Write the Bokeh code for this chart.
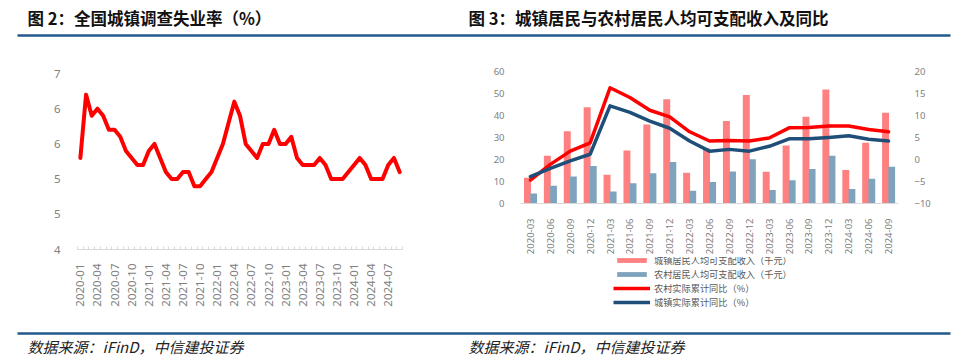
import math
from bokeh.plotting import figure
from bokeh.models import (Range1d, FactorRange, LinearAxis, FixedTicker, Legend,
                          LegendItem, ColumnDataSource)
from bokeh.layouts import column, row
from bokeh.transform import dodge
from bokeh.core.properties import value
from bokeh.embed import file_html
from bokeh.resources import INLINE

# ---------------- data ----------------
titles = ["图 2：全国城镇调查失业率（%）", "图 3：城镇居民与农村居民人均可支配收入及同比"]
sources = ["数据来源：iFinD，中信建投证券", "数据来源：iFinD，中信建投证券"]

months = [f"{y}-{m:02d}" for y in range(2020, 2025) for m in range(1, 13)][:57]
unemployment = [5.3, 6.2, 5.9, 6.0, 5.9, 5.7, 5.7, 5.6, 5.4, 5.3, 5.2, 5.2,
                5.4, 5.5, 5.3, 5.1, 5.0, 5.0, 5.1, 5.1, 4.9, 4.9, 5.0, 5.1,
                5.3, 5.5, 5.8, 6.1, 5.9, 5.5, 5.4, 5.3, 5.5, 5.5, 5.7, 5.5,
                5.5, 5.6, 5.3, 5.2, 5.2, 5.2, 5.3, 5.2, 5.0, 5.0, 5.0, 5.1,
                5.2, 5.3, 5.2, 5.0, 5.0, 5.0, 5.2, 5.3, 5.1]
unemp_ticks = [4.0, 4.5, 5.0, 5.5, 6.0, 6.5]
unemp_tick_labels = ["4", "5", "5", "6", "6", "7"]

quarters = ["2020-03", "2020-06", "2020-09", "2020-12", "2021-03", "2021-06",
            "2021-09", "2021-12", "2022-03", "2022-06", "2022-09", "2022-12",
            "2023-03", "2023-06", "2023-09", "2023-12", "2024-03", "2024-06",
            "2024-09"]
urban_income = [11.7, 21.7, 32.8, 43.8, 13.1, 24.1, 35.9, 47.4, 14.0, 25.0,
                37.5, 49.3, 14.4, 26.4, 39.4, 51.8, 15.2, 27.6, 41.2]
rural_income = [4.6, 8.1, 12.3, 17.1, 5.4, 9.2, 13.7, 18.9, 5.8, 9.8,
                14.6, 20.1, 6.1, 10.6, 15.7, 21.7, 6.6, 11.3, 16.7]
rural_yoy = [-4.7, -1.1, 1.9, 3.8, 16.3, 14.1, 11.2, 9.7, 6.3, 4.2,
             4.3, 4.2, 4.9, 7.2, 7.3, 7.6, 7.6, 6.8, 6.3]
urban_yoy = [-3.9, -2.0, -0.3, 1.2, 12.2, 10.7, 8.7, 7.1, 4.2, 1.9,
             2.3, 1.9, 3.0, 4.7, 4.7, 5.0, 5.4, 4.6, 4.2]
income_ticks = [0, 10, 20, 30, 40, 50, 60]
yoy_ticks = [-10, -5, 0, 5, 10, 15, 20]
legend_labels = ["城镇居民人均可支配收入（千元）", "农村居民人均可支配收入（千元）",
                 "农村实际累计同比（%）", "城镇实际累计同比（%）"]

# ---------------- styles ----------------
CJK = "Noto Sans CJK SC"
NUM = "Noto Sans"
TICK_COLOR = "#808080"
AXIS_COLOR = "#d9d9d9"
RULE_COLOR = "#23598c"
RED = "#ff0000"
NAVY = "#1f4e79"
PINK = "#ff8080"
STEEL = "#7fa3bc"


def blank_fig(w, h):
    p = figure(width=w, height=h, x_range=Range1d(0, w), y_range=Range1d(h, 0),
               x_axis_type=None, y_axis_type=None, min_border=0,
               output_backend="svg", toolbar_location=None)
    p.outline_line_color = None
    p.background_fill_color = "white"
    p.border_fill_color = "white"
    return p


# ---------------- header ----------------
hdr = blank_fig(960, 42)
hdr.text(x=[27, 468], y=[17, 17], text=titles, text_font=value(CJK),
         text_font_style="bold", text_font_size="16.5px", text_baseline="middle",
         text_color="#111111")
hdr.segment(x0=[17], y0=[35], x1=[950], y1=[35], line_color=RULE_COLOR, line_width=2.5)

# ---------------- left chart ----------------
src_l = ColumnDataSource(dict(x=list(range(len(months))), y=unemployment))
lc = figure(width=480, height=280, x_range=Range1d(-0.5, len(months) - 0.5),
            y_range=Range1d(unemp_ticks[0], unemp_ticks[-1]),
            min_border_left=77, min_border_right=78, min_border_top=31,
            min_border_bottom=73, output_backend="svg", toolbar_location=None)
lc.outline_line_color = None
lc.grid.visible = False
lc.line("x", "y", source=src_l, line_color=RED, line_width=4,
        line_join="round", line_cap="round")

xa = lc.xaxis[0]
xa.ticker = FixedTicker(ticks=list(range(0, len(months), 3)),
                        minor_ticks=[i - 0.5 for i in range(len(months) + 1)])
xa.major_label_overrides = {i: months[i] for i in range(0, len(months), 3)}
xa.major_label_orientation = math.pi / 2
xa.axis_line_color = AXIS_COLOR
xa.major_tick_line_color = None
xa.minor_tick_line_color = AXIS_COLOR
xa.minor_tick_in = 3
xa.minor_tick_out = 0
xa.major_label_standoff = 8
xa.major_label_text_font = NUM
xa.major_label_text_font_size = "11.5px"
xa.major_label_text_color = TICK_COLOR

ya = lc.yaxis[0]
ya.ticker = FixedTicker(ticks=unemp_ticks)
ya.major_label_overrides = {t: s for t, s in zip(unemp_ticks, unemp_tick_labels)}
ya.axis_line_color = None
ya.major_tick_line_color = None
ya.minor_tick_line_color = None
ya.major_label_standoff = 11
ya.major_label_text_font = NUM
ya.major_label_text_font_size = "11.5px"
ya.major_label_text_color = TICK_COLOR

# ---------------- right chart ----------------
src_r = ColumnDataSource(dict(q=quarters, urban=urban_income, rural=rural_income,
                              ryoy=rural_yoy, uyoy=urban_yoy))
rc = figure(width=480, height=215, x_range=FactorRange(factors=quarters, range_padding=0),
            y_range=Range1d(income_ticks[0], income_ticks[-1]),
            min_border_left=40, min_border_right=62, min_border_top=29,
            min_border_bottom=48, output_backend="svg", toolbar_location=None)
rc.outline_line_color = None
rc.grid.visible = False
rc.extra_y_ranges = {"yoy": Range1d(yoy_ticks[0], yoy_ticks[-1])}

bar_style = [dict(fill_color=PINK, line_color=None), dict(fill_color=STEEL, line_color=None)]
line_style = [dict(line_color=RED, line_width=3.5), dict(line_color=NAVY, line_width=3.5)]

rc.vbar(x=dodge("q", -0.15, range=rc.x_range), top="urban", width=0.35,
        source=src_r, **bar_style[0])
rc.vbar(x=dodge("q", 0.16, range=rc.x_range), top="rural", width=0.34,
        source=src_r, **bar_style[1])
rc.line("q", "ryoy", source=src_r, y_range_name="yoy",
        line_join="round", line_cap="round", **line_style[0])
rc.line("q", "uyoy", source=src_r, y_range_name="yoy",
        line_join="round", line_cap="round", **line_style[1])

rax = LinearAxis(y_range_name="yoy", ticker=FixedTicker(ticks=yoy_ticks))
rc.add_layout(rax, "right")

for ax in (rc.yaxis[0], rax):
    ax.axis_line_color = None
    ax.major_tick_line_color = None
    ax.minor_tick_line_color = None
    ax.major_label_standoff = 10
    ax.major_label_text_font = NUM
    ax.major_label_text_font_size = "9.5px"
    ax.major_label_text_color = TICK_COLOR
rc.yaxis[0].ticker = FixedTicker(ticks=income_ticks)

cx = rc.xaxis[0]
cx.major_label_orientation = math.pi / 2
cx.axis_line_color = AXIS_COLOR
cx.major_tick_line_color = None
cx.minor_tick_line_color = None
cx.major_label_standoff = 9
cx.major_label_text_font = NUM
cx.major_label_text_font_size = "9.5px"
cx.major_label_text_color = TICK_COLOR

# ---------------- legend (separate strip under the right chart) ----------------
# legend-only proxy renderers, placed outside the visible range of this strip
lg = blank_fig(480, 65)
proxy = ColumnDataSource(dict(x=[-1000, -999], y=[-1000, -999], top=[-1000, -999]))
lr = [lg.vbar(x="x", top="top", width=1, source=proxy, **bar_style[0]),
      lg.vbar(x="x", top="top", width=1, source=proxy, **bar_style[1]),
      lg.line("x", "y", source=proxy, **line_style[0]),
      lg.line("x", "y", source=proxy, **line_style[1])]
legend = Legend(items=[LegendItem(label=value(t), renderers=[r])
                       for t, r in zip(legend_labels, lr)],
                location=(133, 13), orientation="vertical",
                glyph_width=37, glyph_height=6, label_standoff=4,
                label_height=9, spacing=0, padding=0, margin=0,
                border_line_color=None, background_fill_alpha=0,
                label_text_font=CJK, label_text_font_size="9.2px",
                label_text_color="#595959")
lg.add_layout(legend)

# ---------------- footer ----------------
ftr = blank_fig(960, 41)
ftr.segment(x0=[17], y0=[11], x1=[950], y1=[11], line_color=RULE_COLOR, line_width=2.5)
ftr.text(x=[27, 468], y=[24, 24], text=sources, text_font=value(CJK),
         text_font_style="italic", text_font_size="15px", text_baseline="middle",
         text_color="#222222")

layout = column(hdr, row(column(lc), column(column(rc), column(lg))), ftr)
open("out.html", "w").write(file_html(layout, INLINE))
